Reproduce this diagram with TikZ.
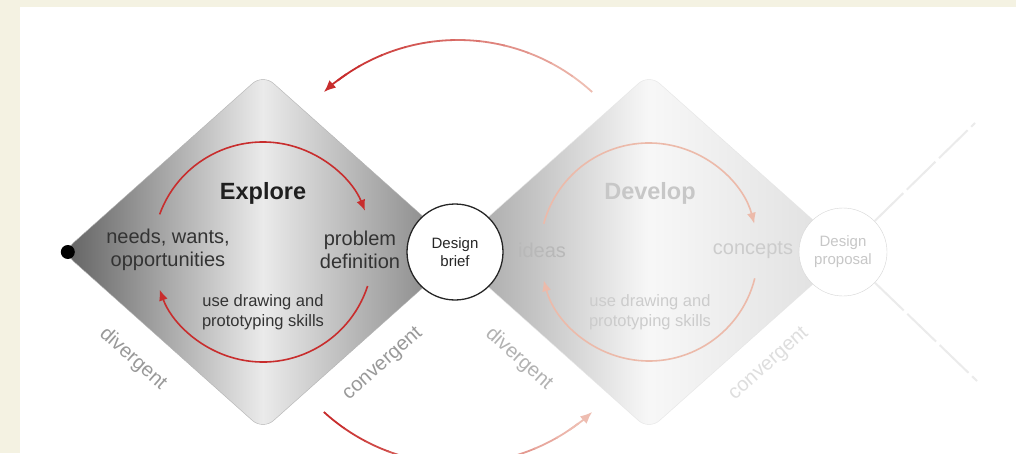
\documentclass[tikz,border=0pt]{standalone}
\usepackage{fontspec}
\setmainfont{Liberation Sans}
\usepackage{xcolor}
\usetikzlibrary{shapes.geometric,arrows.meta}
\definecolor{slidecream}{RGB}{244,242,226}
\definecolor{loopred}{RGB}{200,45,45}
\definecolor{looppale}{RGB}{242,205,192}
\definecolor{devsalmon}{RGB}{236,186,170}
\tikzset{
    phase-diamond/.style = {diamond, minimum width=400pt, minimum height=356pt, inner sep=0pt, rounded corners=14pt, thin},
    gate-circle/.style = {circle, fill=white, minimum size=96pt, inner sep=0pt, align=center, font=\fontsize{15}{18}\selectfont},
    phase-title/.style = {font=\bfseries\fontsize{23.5}{27}\selectfont},
    phase-label/.style = {align=center, font=\fontsize{20}{23}\selectfont},
    skill-label/.style = {align=center, font=\fontsize{16.5}{20}\selectfont},
    side-label/.style = {font=\fontsize{20}{24}\selectfont},
    inner-loop/.style = {line width=1.6pt, -{Latex[length=11pt,width=9pt]}},
    back-loop/.style = {line width=1.8pt},
    next-line/.style = {black!8, line width=2pt, dash pattern=on 40pt off 5pt},
}

\begin{document}
\begin{tikzpicture}[x=1pt,y=1pt]
\useasboundingbox (0,0) rectangle (1016,453);
\clip (0,0) rectangle (1016,453);
\fill[slidecream] (0,0) rectangle (1016,453);
\fill[white] (20,0) rectangle (1016,446);

\node[phase-diamond, draw=black!10, left color=black!38, right color=black!13, middle color=black!3] (develop) at (649,201) {};
\node[phase-diamond, draw=black!30, left color=black!62, right color=black!52, middle color=black!8] (explore) at (263,201) {};

\node[circle, fill=black, minimum size=14pt, inner sep=0pt] (start-dot) at ([xshift=5pt]explore.west) {};
\node[gate-circle, draw=black!85, line width=1.3pt, text=black!85] (brief) at (455,201) {Design\\brief};
\node[gate-circle, minimum size=88pt, draw=black!16, text=black!22] (proposal) at (843,201) {Design\\proposal};

\coordinate (next-top) at (975,330);
\coordinate (next-bottom) at (977,72);
\draw[next-line] (proposal) -- (next-top);
\draw[next-line] (proposal) -- (next-bottom);

\node[phase-title, text=black!88] (explore-title) at (263,260) {Explore};
\node[phase-label, text=black!80] (needs) at (168,203) {needs, wants,\\opportunities};
\node[phase-label, text=black!80] (problem) at (360,203) {problem\\definition};
\node[skill-label, text=black!80] (explore-skills) at (263,141) {use drawing and\\prototyping skills};
\node[side-label, text=black!40, rotate=-41.5] (explore-div) at (133,94) {divergent};
\node[side-label, text=black!40, rotate=41.5] (explore-conv) at (383,89) {convergent};

\node[phase-title, text=black!22] (develop-title) at (650,260) {Develop};
\node[phase-label, text=black!28] (ideas) at (542,203) {ideas};
\node[phase-label, text=black!20] (concepts) at (753,203) {concepts};
\node[skill-label, text=black!20] (develop-skills) at (650,141) {use drawing and\\prototyping skills};
\node[side-label, text=black!30, rotate=-41.5] (develop-div) at (519,94) {divergent};
\node[side-label, text=black!13, rotate=41.5] (develop-conv) at (769,89) {convergent};

\draw[inner-loop, loopred] ([shift={(160:110)}]explore.center) arc[start angle=160, end angle=22, radius=110];
\draw[inner-loop, loopred] ([shift={(-18:110)}]explore.center) arc[start angle=-18, end angle=-160, radius=110];
\draw[inner-loop, devsalmon] ([shift={(165:109)}]develop.center) arc[start angle=165, end angle=15, radius=109];
\draw[inner-loop, devsalmon] ([shift={(-14:109)}]develop.center) arc[start angle=-14, end angle=-165, radius=109];

\coordinate (back-top) at (458,214);
\coordinate (back-bottom) at (458,188);
\foreach \k in {0,...,10} {
    \pgfmathsetmacro\a{47.6+7.2*\k}
    \pgfmathsetmacro\b{\a+7.6}
    \pgfmathtruncatemacro\p{10+90*\k/10}
    \draw[back-loop, loopred!\p!looppale] ([shift={(\a:199)}]back-top) arc[start angle=\a, end angle=\b, radius=199];
    \pgfmathsetmacro\c{-132.4+7.2*\k}
    \pgfmathsetmacro\d{\c+7.6}
    \pgfmathtruncatemacro\q{100-85*\k/10}
    \draw[back-loop, loopred!\q!looppale] ([shift={(\c:199)}]back-bottom) arc[start angle=\c, end angle=\d, radius=199];
}
\draw[back-loop, loopred, -{Latex[length=12pt,width=10pt]}] ([shift={(124:199)}]back-top) arc[start angle=124, end angle=132.4, radius=199];
\draw[back-loop, looppale!90!loopred, -{Latex[length=12pt,width=10pt]}] ([shift={(-56:199)}]back-bottom) arc[start angle=-56, end angle=-47.6, radius=199];
\end{tikzpicture}
\end{document}
